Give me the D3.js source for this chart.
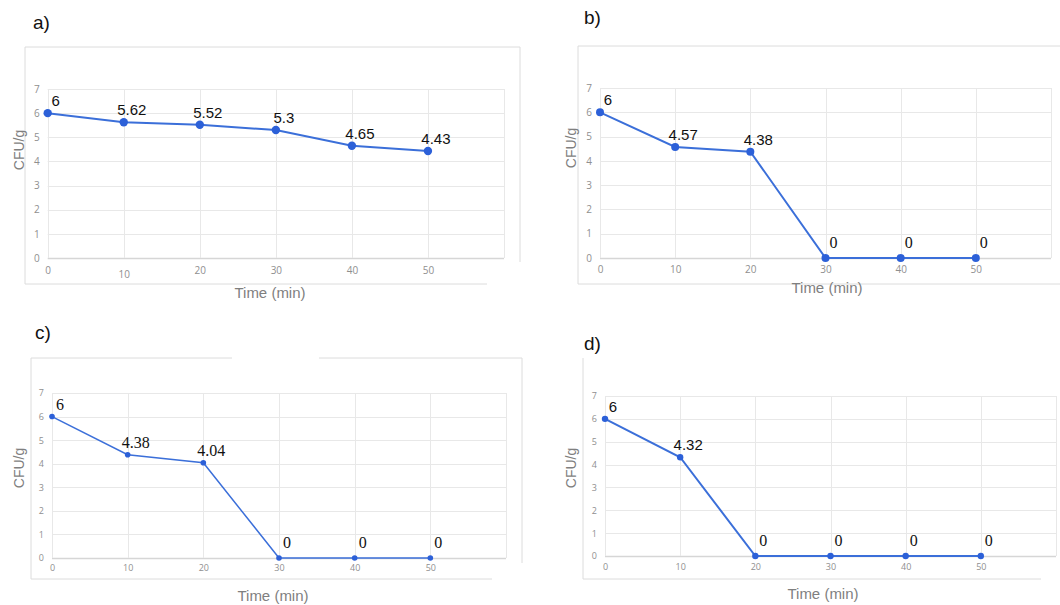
<!DOCTYPE html>
<html>
<head>
<meta charset="utf-8">
<script src="https://cdn.jsdelivr.net/npm/d3@7"></script>
<style>
  body { margin: 0; background: #fff; }
  svg { display: block; }
  .serif { font-family: "Liberation Serif", "Times New Roman", serif; }
  .sans { font-family: "Liberation Sans", Arial, sans-serif; }
</style>
</head>
<body>
<div id="container"></div>
<script>
// data
let times = [0, 10, 20, 30, 40, 50];
let cfuA = [6, 5.62, 5.52, 5.3, 4.65, 4.43];
let cfuB = [6, 4.57, 4.38, 0, 0, 0];
let cfuC = [6, 4.38, 4.04, 0, 0, 0];
let cfuD = [6, 4.32, 0, 0, 0, 0];
let panelNames = ["a)", "b)", "c)", "d)"];
let yTicks = [0, 1, 2, 3, 4, 5, 6, 7];
let xTicks = [0, 10, 20, 30, 40, 50];

let W = 1060, H = 605;
let lineColor = "#3b6fd9", dotColor = "#2c60d8";

let svg = d3.select("#container").append("svg")
    .attr("width", W)
    .attr("height", H);

// layout of each panel (pixels)
let panels = [
  {values: cfuA, name: panelNames[0], left: 47.7, right: 504, top: 89, bottom: 258,
   nameX: 33, nameY: 22, yTitleX: 19, yTitleY: 150, xTitleX: 270, xTitleY: 293,
   r: 4.2, lw: 2, tickFont: 10, xPad: 9, labelFont: "sans",
   box: [[25,47,520,47],[25,47,25,284],[520,47,520,262],[25,284,487,284]]},
  {values: cfuB, name: panelNames[1], left: 600, right: 1051, top: 88, bottom: 258,
   nameX: 584, nameY: 17, yTitleX: 571, yTitleY: 148, xTitleX: 827, xTitleY: 288,
   r: 4, lw: 2, tickFont: 10, xPad: 8, labelFont: "zeroSerif",
   box: [[578,46,1060,46],[578,46,578,284],[578,284,1060,284]]},
  {values: cfuC, name: panelNames[2], left: 52, right: 506, top: 393, bottom: 558,
   nameX: 35, nameY: 332, yTitleX: 19, yTitleY: 468, xTitleX: 273, xTitleY: 596,
   r: 2.8, lw: 1.5, tickFont: 9, xPad: 7, labelFont: "serif",
   box: [[31,358,232,358],[319,358,522,358],[31,358,31,579],[522,358,522,563],[31,579,492,579]]},
  {values: cfuD, name: panelNames[3], left: 605, right: 1056, top: 396, bottom: 556,
   nameX: 584, nameY: 343, yTitleX: 571, yTitleY: 468, xTitleX: 823, xTitleY: 594,
   r: 3.2, lw: 2, tickFont: 9, xPad: 8, labelFont: "zeroSerif",
   box: [[583,358,583,579],[583,579,1041,579]]}
];

panels.forEach(function(p, pi) {
  let x = d3.scaleLinear().domain([0, 60]).range([p.left, p.right]);
  let y = d3.scaleLinear().domain([0, 7]).range([p.bottom, p.top]);
  let g = svg.append("g").attr("class", "panel");

  // outer chart frame
  g.selectAll(".frame").data(p.box).enter().append("line")
      .attr("x1", d => d[0]).attr("y1", d => d[1])
      .attr("x2", d => d[2]).attr("y2", d => d[3])
      .attr("stroke", "#dcdcdc").attr("stroke-width", 1);

  // gridlines
  g.selectAll(".hgrid").data(yTicks).enter().append("line")
      .attr("x1", x(0)).attr("x2", x(60))
      .attr("y1", d => Math.round(y(d)) + 0.5).attr("y2", d => Math.round(y(d)) + 0.5)
      .attr("stroke", d => d === 0 ? "#d6d6d6" : "#e8e8e8")
      .attr("stroke-width", d => d === 0 ? 1.5 : 1);
  g.selectAll(".vgrid").data(xTicks.concat([60])).enter().append("line")
      .attr("x1", d => Math.round(x(d)) + 0.5).attr("x2", d => Math.round(x(d)) + 0.5)
      .attr("y1", y(7)).attr("y2", y(0))
      .attr("stroke", "#e8e8e8").attr("stroke-width", 1);

  // axes (labels only)
  let yAxis = d3.axisLeft(y).tickValues(yTicks).tickFormat(d3.format("d")).tickSize(0).tickPadding(8);
  let xAxis = d3.axisBottom(x).tickValues(xTicks).tickFormat(d3.format("d")).tickSize(0).tickPadding(p.xPad);
  let ya = g.append("g").attr("transform", "translate(" + x(0) + ",0)").call(yAxis);
  let xa = g.append("g").attr("transform", "translate(0," + y(0) + ")").call(xAxis);
  [ya, xa].forEach(function(a) {
    a.select(".domain").remove();
    a.attr("font-family", null).attr("font-size", null);
    a.selectAll("text")
        .attr("fill", "#8f8f8f")
        .style("font-family", "'Open Sans', 'Liberation Sans', sans-serif")
        .style("font-size", p.tickFont + "px");
  });
  if (pi === 0) {
    // the "10" label sits a little lower in panel a
    xa.selectAll(".tick").filter(d => d === 10).select("text").attr("dy", "1.05em");
  }

  // line and markers
  let pts = times.map((t, i) => ({t: t, v: p.values[i]}));
  let line = d3.line().x(d => x(d.t)).y(d => y(d.v));
  g.append("path").datum(pts)
      .attr("d", line)
      .attr("fill", "none")
      .attr("stroke", lineColor)
      .attr("stroke-width", p.lw);
  g.selectAll(".dot").data(pts).enter().append("circle")
      .attr("cx", d => x(d.t)).attr("cy", d => y(d.v))
      .attr("r", p.r)
      .attr("fill", dotColor);

  // data labels
  let isSerif = d => p.labelFont === "serif" || (p.labelFont === "zeroSerif" && d.v === 0);
  g.selectAll(".lab").data(pts).enter().append("text")
      .attr("class", d => isSerif(d) ? "serif" : "sans")
      .attr("x", d => x(d.t) + 8)
      .attr("y", d => y(d.v) - (d.v === 0 ? 10 : 7))
      .attr("text-anchor", "middle")
      .attr("fill", "#111")
      .style("font-size", d => isSerif(d) ? "16px" : "15px")
      .text(d => d.v);

  // axis titles
  g.append("text")
      .attr("class", "sans")
      .attr("transform", "translate(" + p.yTitleX + "," + p.yTitleY + ") rotate(-90)")
      .attr("text-anchor", "middle")
      .attr("dy", "0.35em")
      .attr("fill", "#7f7f7f")
      .style("font-size", "14px")
      .text("CFU/g");
  g.append("text")
      .attr("class", "sans")
      .attr("x", p.xTitleX).attr("y", p.xTitleY)
      .attr("text-anchor", "middle")
      .attr("dy", "0.35em")
      .attr("fill", "#7f7f7f")
      .style("font-size", "15px")
      .text("Time (min)");

  // panel letter
  g.append("text")
      .attr("class", "sans")
      .attr("x", p.nameX).attr("y", p.nameY)
      .attr("dy", "0.35em")
      .attr("fill", "#111")
      .style("font-size", "19px")
      .text(p.name);
});
</script>
</body>
</html>
